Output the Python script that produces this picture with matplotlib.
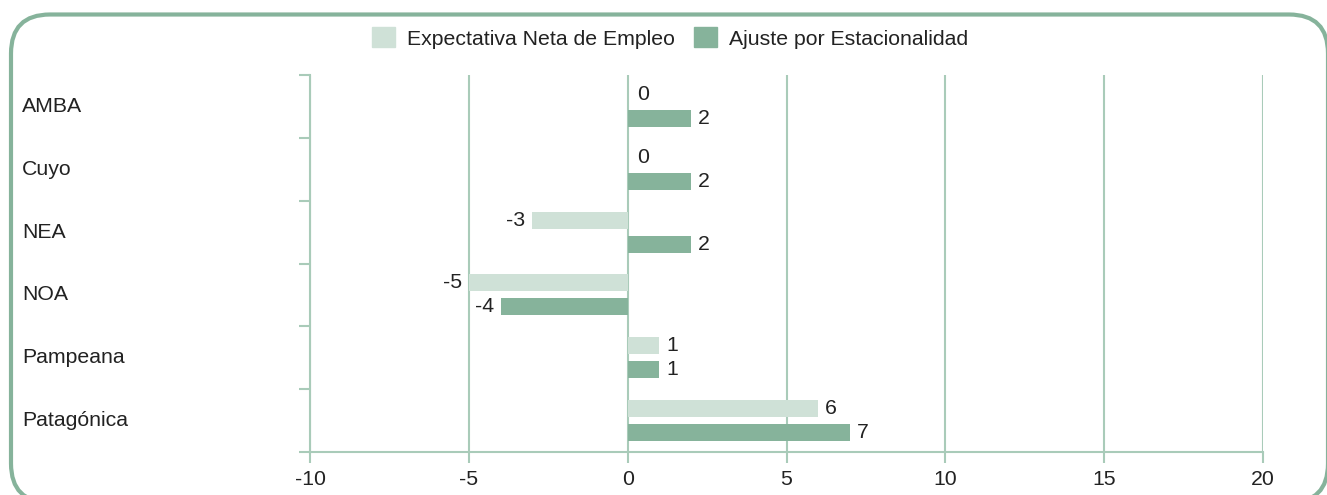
import numpy as np
import matplotlib
matplotlib.use("Agg")
import matplotlib.pyplot as plt
from matplotlib.patches import FancyBboxPatch, Patch
from matplotlib.transforms import blended_transform_factory

regiones = ["AMBA", "Cuyo", "NEA", "NOA", "Pampeana", "Patagónica"]
expectativa = [0, 0, -3, -5, 1, 6]
ajuste = [2, 2, 2, -4, 1, 7]
xticks = [-10, -5, 0, 5, 10, 15, 20]

c_claro = "#cfe1d7"
c_oscuro = "#86b39b"
c_grid = "#a9cbb9"
c_texto = "#222222"

plt.rcParams['font.family'] = ['Liberation Sans', 'DejaVu Sans']
plt.rcParams['font.size'] = 15.3

fig = plt.figure(figsize=(13.27, 4.95), dpi=100)
ax = fig.add_axes([310/1327, 1-452/495, (1263-310)/1327, (452-75)/495])

y = np.arange(len(regiones))
h = 0.27
b1 = ax.barh(y - 0.19, expectativa, height=h, color=c_claro, zorder=3)
b2 = ax.barh(y + 0.19, ajuste, height=h, color=c_oscuro, zorder=3)

# etiquetas de valor
for barras, vals in [(b1, expectativa), (b2, ajuste)]:
    for rect, v in zip(barras, vals):
        yc = rect.get_y() + rect.get_height()/2
        if v < 0:
            ax.annotate(str(v), (v, yc), xytext=(-5, 0), textcoords='offset points',
                        ha='right', va='center', color=c_texto)
        else:
            ax.annotate(str(v), (v, yc), xytext=(5 if v else 7, 0), textcoords='offset points',
                        ha='left', va='center', color=c_texto)

ax.set_xlim(-10, 20)
ax.set_ylim(len(regiones) - 0.5, -0.5)
ax.set_xticks(xticks)
ax.set_xticklabels([str(t) for t in xticks], color=c_texto)
ax.tick_params(axis='x', length=8, width=1.5, color=c_grid, pad=5)
ax.grid(axis='x', color=c_grid, linewidth=1.5, zorder=0)

# marcas del eje y en los limites de cada categoria
ax.set_yticks(np.arange(len(regiones) + 1) - 0.5)
ax.set_yticklabels([])
ax.tick_params(axis='y', length=8, width=1.5, color=c_grid)

for s in ['top', 'right']:
    ax.spines[s].set_visible(False)
for s in ['left', 'bottom']:
    ax.spines[s].set_color(c_grid)
    ax.spines[s].set_linewidth(1.5)

tr = blended_transform_factory(fig.transFigure, ax.transData)
for yi, nombre in zip(y, regiones):
    ax.text(22/1327, yi, nombre, transform=tr, ha='left', va='center', color=c_texto)

handles = [Patch(color=c_claro, label="Expectativa Neta de Empleo"),
           Patch(color=c_oscuro, label="Ajuste por Estacionalidad")]
fig.legend(handles=handles, loc='center', bbox_to_anchor=(670/1327, 1-38/495), ncol=2,
           frameon=False, handlelength=1.08, handleheight=1.04, handletextpad=0.56,
           columnspacing=0.94, labelcolor=c_texto, fontsize=15.3)

# marco redondeado
marco = FancyBboxPatch((0.11, -0.075), 13.17, 4.88, boxstyle="round,pad=0,rounding_size=0.39",
                       transform=fig.dpi_scale_trans, facecolor='none', edgecolor=c_oscuro,
                       linewidth=3, clip_on=False, zorder=10)
fig.patches.append(marco)

fig.savefig("out.png", dpi=100)
